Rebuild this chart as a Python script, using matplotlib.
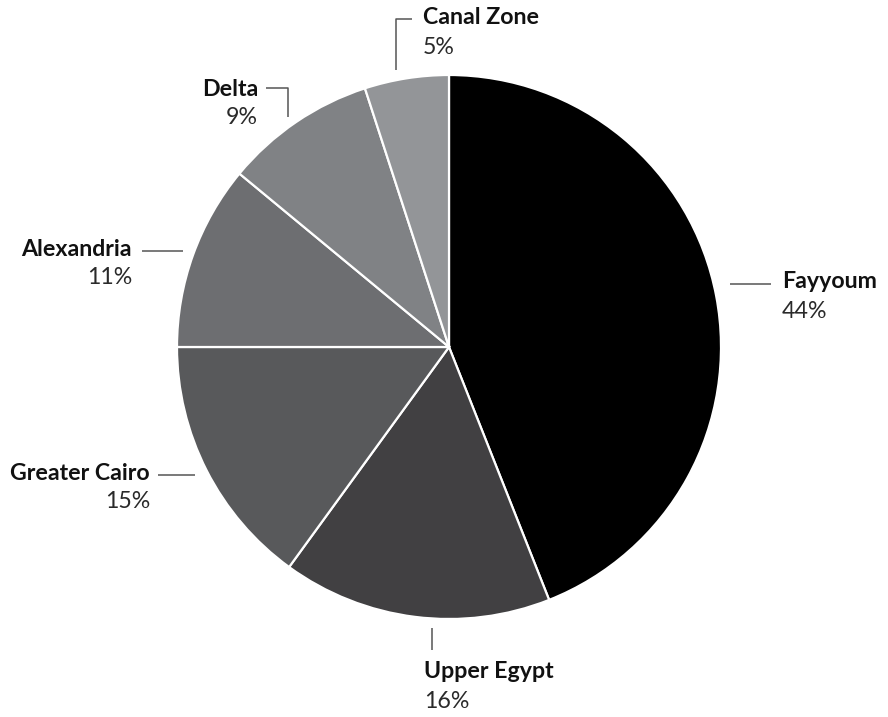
import matplotlib
matplotlib.use("Agg")
import matplotlib.pyplot as plt

# ── data ─────────────────────────────────────────────
regions = ["Fayyoum", "Upper Egypt", "Greater Cairo", "Alexandria", "Delta", "Canal Zone"]
shares = [44, 16, 15, 11, 9, 5]
colors = ["#000000", "#414042", "#58595b", "#6d6e71", "#808285", "#939598"]

W, H = 888, 717
fig = plt.figure(figsize=(W / 100, H / 100), dpi=100)
ax = fig.add_axes([0, 0, 1, 1])

def Y(y):  # pixel y (from top) -> data y
    return H - y

cx, cy, r = 449, 347, 272
ax.pie(shares, colors=colors, startangle=90, counterclock=False,
       center=(cx, Y(cy)), radius=r, frame=True,
       wedgeprops=dict(edgecolor="white", linewidth=1.6))
ax.set_xlim(0, W)
ax.set_ylim(0, H)
ax.set_aspect("equal")
ax.axis("off")

FONT = ["Lato", "DejaVu Sans"]
LC = "#555555"
LW = 1.1

def label(x, y, name, pct, ha):
    ax.text(x, Y(y), name, ha=ha, va="center", fontsize=16.7,
            fontweight="bold", color="#111111", family=FONT)
    ax.text(x, Y(y + 29), f"{pct}%", ha=ha, va="center", fontsize=16.7,
            fontweight="normal", color="#2a2a2a", family=FONT)

def line(xs, ys):
    ax.plot(xs, [Y(v) for v in ys], color=LC, lw=LW, solid_capstyle="butt")

# Fayyoum
line([730, 771], [284, 284])
label(782, 282, regions[0], shares[0], "left")
# Upper Egypt
line([432, 432], [628, 650])
label(424, 672, regions[1], shares[1], "left")
# Greater Cairo
line([158, 195], [475, 475])
label(150, 473, regions[2], shares[2], "right")
# Alexandria
line([142, 183], [251, 251])
label(132, 249, regions[3], shares[3], "right")
# Delta
line([266, 288, 288], [88, 88, 117])
label(258, 89, regions[4], shares[4], "right")
# Canal Zone
line([396, 396, 412], [70, 19, 19])
label(423, 18, regions[5], shares[5], "left")

fig.savefig("out.png", dpi=100, facecolor="white")
